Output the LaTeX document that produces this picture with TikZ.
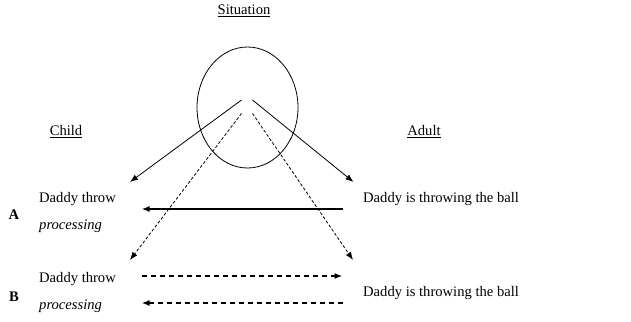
\documentclass[tikz,border=0pt]{standalone}
\usepackage{fontspec}
\setmainfont{Liberation Serif}
\usetikzlibrary{arrows.meta,shapes.geometric}
\begin{document}
\begin{tikzpicture}[x=1pt, y=-1pt, font=\fontsize{14.6}{17}\selectfont,
    thinarrow/.style={-{Latex[length=8pt,width=6pt]}, line width=0.8pt},
    dasharrow/.style={thinarrow, dash pattern=on 3pt off 2pt},
    boldarrow/.style={-{Latex[length=8pt,width=6pt]}, line width=1.8pt},
    bolddash/.style={boldarrow, dash pattern=on 5pt off 4pt},
    label/.style={anchor=west, inner sep=0pt}]
    \useasboundingbox (0,0) rectangle (631,321);

    % Headings and the situation
    \node (sit) at (244,11) {\underline{Situation}};
    \node (child) at (66,132) {\underline{Child}};
    \node (adult) at (424,132) {\underline{Adult}};
    \node[draw, ellipse, line width=0.8pt, inner sep=0pt, minimum width=101pt, minimum height=121pt] (circ) at (247.5,107.5) {};

    % Start points inside the circle
    \coordinate (sl) at (241.5,100);
    \coordinate (sr) at (252.5,100);
    \coordinate (dl) at (241.5,113.5);
    \coordinate (dr) at (252.5,113.5);

    % Row A
    \node[font=\fontsize{14.6}{17}\selectfont\bfseries] (rowa) at (14,215) {A};
    \node[label] (achild) at (39,199) {Daddy throw};
    \node[label] (aproc) at (39,226) {\textit{processing}};
    \node[label] (aadult) at (363,199) {Daddy is throwing the ball};
    \coordinate (atipl) at (130,182);
    \coordinate (atipr) at (353.5,182);
    \coordinate (afrom) at (342.5,209);
    \coordinate (ato) at (141.5,209);

    % Row B
    \node[font=\fontsize{14.6}{17}\selectfont\bfseries] (rowb) at (14,296.5) {B};
    \node[label] (bchild) at (39,279) {Daddy throw};
    \node[label] (bproc) at (39,306.5) {\textit{processing}};
    \node[label] (badult) at (363,293.5) {Daddy is throwing the ball};
    \coordinate (btipl) at (130,260);
    \coordinate (btipr) at (353,260);
    \coordinate (bout1) at (141.5,276);
    \coordinate (bin1) at (342.5,276);
    \coordinate (bout2) at (342.5,303);
    \coordinate (bin2) at (141.5,303);

    % Arrows
    \draw[thinarrow] (sl) -- (atipl);
    \draw[thinarrow] (sr) -- (atipr);
    \draw[dasharrow] (dl) -- (btipl);
    \draw[dasharrow] (dr) -- (btipr);
    \draw[boldarrow] (afrom) -- (ato);
    \draw[bolddash] (bout1) -- (bin1);
    \draw[bolddash] (bout2) -- (bin2);
\end{tikzpicture}
\end{document}
